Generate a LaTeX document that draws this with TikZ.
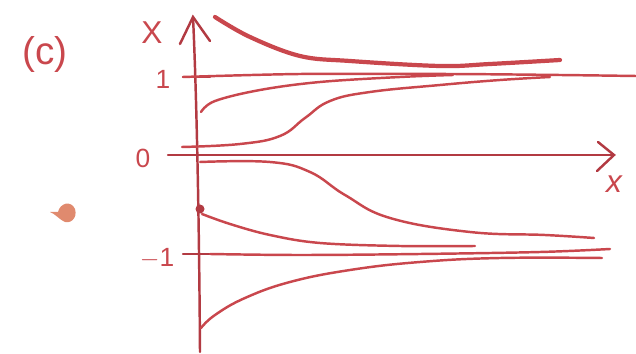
\documentclass[tikz,border=0pt]{standalone}
\usepackage{fontspec}
\setmainfont{Liberation Sans}
\usetikzlibrary{arrows.meta}
\definecolor{ink}{HTML}{C9474D}
\definecolor{inkd}{HTML}{B23A42}
\definecolor{blob}{HTML}{E08A6E}
\tikzset{
  curve/.style={ink, line width=1.4pt, line cap=round, line join=round},
  thick curve/.style={ink, line width=2.4pt, line cap=round},
  axisline/.style={inkd, line width=1.4pt, line cap=round},
  lab/.style={text=ink, inner sep=0pt, font=\fontsize{15}{15}\selectfont}
}
\begin{document}
\begin{tikzpicture}[x=0.02cm,y=-0.02cm]
\useasboundingbox (0,0) rectangle (636,354);
% labels
\node[lab, font=\fontsize{22}{22}\selectfont] (c) at (45,55) {(c)};
\node[lab, font=\fontsize{18}{18}\selectfont] (X) at (152,33) {X};
\node[lab] (one) at (163,79) {1};
\node[lab] (zero) at (143,158) {0};
\node[lab] (mone) at (157,258) {\(-\)1};
\node[lab, font=\fontsize{18}{18}\selectfont\itshape] (xl) at (614,184) {x};
% axes
\coordinate (vb) at (200,352);
\coordinate (vt) at (193,17);
\draw[axisline] (vb) .. controls (199,200) and (196,80) .. (vt);
\draw[axisline] (180,44) -- (vt) -- (210,41);
\coordinate (hl) at (168,155);
\coordinate (hr) at (614,155);
\draw[axisline] (hl) -- (hr);
\draw[axisline] (598,142) -- (hr) -- (597,171);
% ticks
\draw[axisline] (183,77) -- (210,77);
\draw[axisline] (183,254) -- (210,254);
% dot
\fill[inkd] (200,209) circle (4.5);
% blob
\fill[blob] (58,212) .. controls (60,203) and (71,200) .. (75,209) .. controls (78,219) and (69,225) .. (63,221) .. controls (58,218) and (55,214) .. (50,212) -- cycle;
% curves
\draw[thick curve] plot[smooth, tension=0.6] coordinates {(215,17) (250,37) (300,56) (350,61) (440,66) (490,64) (560,60)};
\draw[curve] plot[smooth] coordinates {(183,77) (300,74) (450,74) (560,75) (636,76)};
\draw[curve] plot[smooth, tension=0.6] coordinates {(201,112) (215,101) (260,90) (320,82) (400,77) (453,75)};
\draw[curve] plot[smooth, tension=0.7] coordinates {(182,147) (240,144) (280,136) (305,118) (330,101) (370,92) (440,85) (500,80) (550,77)};
\draw[curve] plot[smooth, tension=0.7] coordinates {(200,162) (270,162) (310,172) (345,195) (390,218) (470,232) (545,235) (594,238)};
\draw[curve] plot[smooth, tension=0.6] coordinates {(202,214) (230,224) (270,235) (320,243) (400,246) (475,246)};
\draw[curve] plot[smooth, tension=0.6] coordinates {(210,254) (300,255) (420,254) (540,252) (610,249)};
\draw[curve] plot[smooth, tension=0.7] coordinates {(201,328) (215,315) (245,298) (290,282) (350,270) (420,262) (500,258) (602,258)};
\end{tikzpicture}
\end{document}
